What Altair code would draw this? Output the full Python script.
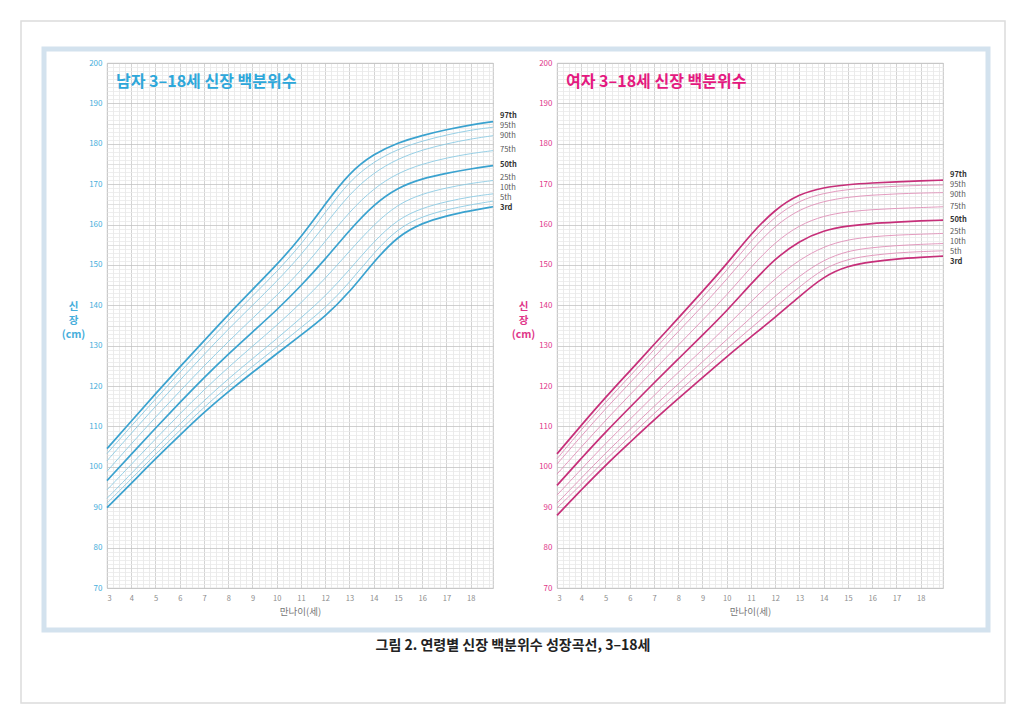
import altair as alt
import pandas as pd

FONT = "Noto Sans CJK KR"

AGES = [3, 4, 5, 6, 7, 8, 9, 10, 11, 12, 13, 14, 15, 16, 17, 18, 18.92]
PCTS = ["3rd", "5th", "10th", "25th", "50th", "75th", "90th", "95th", "97th"]
BOLD = ["3rd", "50th", "97th"]

BOY_3 = [89.9, 95.9, 102.0, 107.8, 113.5, 118.6, 123.4, 128.0, 132.6, 137.2, 143.2, 150.8, 157.2, 160.4, 162.2, 163.4, 164.4]
BOY_5 = [91.0, 97.0, 103.1, 109.0, 114.8, 120.0, 124.9, 129.6, 134.5, 139.3, 145.6, 153.0, 159.1, 162.0, 163.7, 164.9, 165.8]
BOY_10 = [92.2, 98.3, 104.6, 110.6, 116.4, 121.8, 126.8, 131.7, 136.9, 142.2, 148.8, 155.8, 161.4, 164.1, 165.7, 166.9, 167.6]
BOY_25 = [94.3, 100.6, 106.9, 113.1, 119.1, 124.6, 129.9, 135.0, 140.6, 146.6, 153.4, 160.0, 165.1, 167.6, 169.1, 170.2, 170.9]
BOY_50 = [96.6, 103.1, 109.6, 115.9, 122.1, 127.9, 133.4, 138.8, 144.8, 151.4, 158.6, 165.0, 169.2, 171.4, 172.7, 173.8, 174.6]
BOY_75 = [98.9, 105.7, 112.3, 118.7, 125.0, 131.0, 136.8, 142.4, 148.6, 155.8, 163.2, 169.0, 172.8, 175.0, 176.5, 177.6, 178.3]
BOY_90 = [101.5, 108.3, 115.0, 121.4, 127.8, 134.1, 140.0, 145.9, 152.4, 160.0, 167.6, 172.9, 176.3, 178.5, 180.0, 181.2, 182.0]
BOY_95 = [103.3, 110.1, 116.8, 123.4, 129.8, 136.2, 142.3, 148.3, 155.0, 163.0, 170.8, 175.6, 178.7, 180.7, 182.2, 183.4, 184.1]
BOY_97 = [104.5, 111.3, 118.1, 124.7, 131.2, 137.7, 143.9, 150.0, 156.8, 165.1, 172.9, 177.5, 180.3, 182.1, 183.5, 184.7, 185.5]

GIRL_3 = [88.0, 94.3, 100.4, 106.0, 111.6, 116.9, 122.1, 127.3, 132.2, 137.0, 142.2, 147.2, 149.8, 150.8, 151.5, 151.9, 152.2]
GIRL_5 = [89.8, 95.6, 101.8, 107.5, 113.2, 118.6, 123.9, 129.2, 134.4, 139.4, 144.6, 149.2, 151.5, 152.4, 153.0, 153.3, 153.5]
GIRL_10 = [91.0, 97.2, 103.4, 109.2, 115.0, 120.5, 126.0, 131.5, 137.0, 142.3, 147.3, 151.3, 153.5, 154.3, 154.8, 155.1, 155.3]
GIRL_25 = [93.0, 99.4, 105.8, 111.7, 117.7, 123.4, 129.0, 134.8, 140.9, 146.7, 151.3, 154.6, 156.3, 157.0, 157.4, 157.6, 157.8]
GIRL_50 = [95.4, 102.1, 108.6, 114.7, 120.8, 126.7, 132.6, 138.6, 145.3, 151.6, 156.0, 158.6, 159.7, 160.3, 160.6, 160.9, 161.1]
GIRL_75 = [98.2, 104.9, 111.5, 117.8, 124.0, 130.1, 136.3, 142.5, 149.5, 155.7, 159.9, 162.2, 163.2, 163.7, 164.0, 164.2, 164.4]
GIRL_90 = [100.7, 107.6, 114.4, 120.7, 127.2, 133.5, 139.8, 146.4, 153.6, 159.8, 163.8, 165.8, 166.8, 167.3, 167.6, 167.8, 167.9]
GIRL_95 = [102.0, 109.2, 116.0, 122.4, 129.0, 135.4, 141.9, 148.6, 156.0, 162.1, 166.0, 167.8, 168.7, 169.2, 169.5, 169.7, 169.8]
GIRL_97 = [103.2, 110.3, 117.2, 123.7, 130.3, 136.8, 143.4, 150.2, 157.7, 163.8, 167.6, 169.2, 169.9, 170.3, 170.6, 170.8, 171.0]

# heights at which the right-hand percentile names sit
BOY_LABEL_AT = [164.2, 166.65, 169.1, 171.6, 174.8, 178.5, 182.0, 184.45, 186.95]
GIRL_LABEL_AT = [150.8, 153.3, 155.8, 158.25, 161.2, 164.4, 167.4, 169.9, 172.3]

BOY_SERIES = [BOY_3, BOY_5, BOY_10, BOY_25, BOY_50, BOY_75, BOY_90, BOY_95, BOY_97]
GIRL_SERIES = [GIRL_3, GIRL_5, GIRL_10, GIRL_25, GIRL_50, GIRL_75, GIRL_90, GIRL_95, GIRL_97]

BOY_TITLE = "남자 3–18세 신장 백분위수"
GIRL_TITLE = "여자 3–18세 신장 백분위수"
X_TITLE = "만나이(세)"
Y_TITLE = ["신", "장", "(cm)"]
CAPTION = "그림 2. 연령별 신장 백분위수 성장곡선, 3–18세"

X_TICKS = [3 + i * 0.25 for i in range(64)]
Y_TICKS = list(range(70, 201))


def long_df(series):
    rows = []
    for pct, vals in zip(PCTS, series):
        for a, v in zip(AGES, vals):
            rows.append({"age": a, "pct": pct, "height": v, "bold": pct in BOLD})
    return pd.DataFrame(rows)


def panel(series, label_at, thick, thin, axis_color, title_color, title_text, extras=None):
    df = long_df(series)
    xenc = alt.X(
        "age:Q",
        scale=alt.Scale(domain=[3, 18.92], nice=False, zero=False),
        axis=alt.Axis(
            values=X_TICKS, grid=True,
            gridColor={"condition": {"test": "datum.value % 1 === 0", "value": "#c8c8c8"}, "value": "#e6e6e6"},
            gridWidth=0.8, domain=False, ticks=False,
            labelExpr="datum.value % 1 === 0 ? format(datum.value, 'd') : ''",
            labelOverlap=False, labelFontSize=7.5, labelColor="#8c8c8c", labelPadding=6,
            labelFont=FONT, title=X_TITLE, titleFont=FONT, titleFontSize=9.5,
            titleColor="#777777", titleFontWeight="normal", titlePadding=5,
        ),
    )
    yenc = alt.Y(
        "height:Q",
        scale=alt.Scale(domain=[70, 200], nice=False, zero=False),
        axis=alt.Axis(
            values=Y_TICKS, grid=True,
            gridColor={"condition": [
                {"test": "datum.value % 10 === 0", "value": "#c4c4c4"},
                {"test": "datum.value % 5 === 0", "value": "#d9d9d9"}],
                "value": "#eaeaea"},
            gridWidth=0.8, domain=False, ticks=False,
            labelExpr="datum.value % 10 === 0 ? datum.label : ''",
            labelOverlap=False, labelFontSize=8, labelColor=axis_color, labelPadding=5,
            labelFont=FONT, title=Y_TITLE, titleFont=FONT, titleAngle=0, titleAlign="center",
            titleBaseline="middle", titleX=-34, titleY=243, titleLineHeight=14,
            titleFontSize=10.5, titleFontWeight="bold", titleColor=axis_color,
        ),
    )
    thin_lines = alt.Chart(df[~df["bold"]]).mark_line(
        interpolate="basis", strokeWidth=0.9, color=thin
    ).encode(x=xenc, y=yenc, detail="pct:N")
    thick_lines = alt.Chart(df[df["bold"]]).mark_line(
        interpolate="basis", strokeWidth=1.7, color=thick
    ).encode(x=xenc, y=yenc, detail="pct:N")
    lab = pd.DataFrame({"age": [AGES[-1]] * len(PCTS), "height": label_at, "pct": PCTS,
                        "bold": [p in BOLD for p in PCTS]})
    lab_bold = alt.Chart(lab[lab["bold"]]).mark_text(
        align="left", baseline="middle", dx=7, fontSize=7.5, fontWeight="bold",
        color="#333333", font=FONT
    ).encode(x=xenc, y=yenc, text="pct:N")
    lab_reg = alt.Chart(lab[~lab["bold"]]).mark_text(
        align="left", baseline="middle", dx=7, fontSize=7.5, color="#555555", font=FONT
    ).encode(x=xenc, y=yenc, text="pct:N")
    title = alt.Chart(pd.DataFrame({"t": [title_text]})).mark_text(
        align="left", baseline="middle", fontSize=16, fontWeight="bold",
        color=title_color, font=FONT
    ).encode(x=alt.value(9), y=alt.value(19), text="t:N")
    layers = [thin_lines, thick_lines, lab_bold, lab_reg, title]
    if extras:
        layers = extras + layers
    return alt.layer(*layers).properties(width=386, height=525)


one = pd.DataFrame({"t": [CAPTION]})
card = alt.Chart(one).mark_rect(filled=False, stroke="#dcdcdc", strokeWidth=1.5).encode(
    x=alt.value(-86), x2=alt.value(898), y=alt.value(-42), y2=alt.value(640))
frame = alt.Chart(one).mark_rect(filled=False, stroke="#d3e2ee", strokeWidth=5).encode(
    x=alt.value(-63), x2=alt.value(881), y=alt.value(-14), y2=alt.value(567))
caption = alt.Chart(one).mark_text(
    align="center", baseline="middle", fontSize=14, fontWeight="bold", color="#222222", font=FONT
).encode(x=alt.value(406), y=alt.value(583), text="t:N")

left = panel(BOY_SERIES, BOY_LABEL_AT, "#3aa2cf", "#8ccbe3", "#45aedb", "#2ea7da", BOY_TITLE,
             extras=[card, frame, caption])
right = panel(GIRL_SERIES, GIRL_LABEL_AT, "#c62f79", "#e090b8", "#e0368a", "#e4197f", GIRL_TITLE)

chart = alt.hconcat(left, right, spacing=64, bounds="flush").properties(
    padding={"left": 19, "top": 19, "right": 0, "bottom": 0},
    background="white",
).configure_view(stroke="#b5b5b5", strokeWidth=0.8)

chart.save("out.html", embed_options={"renderer": "svg", "actions": False})
